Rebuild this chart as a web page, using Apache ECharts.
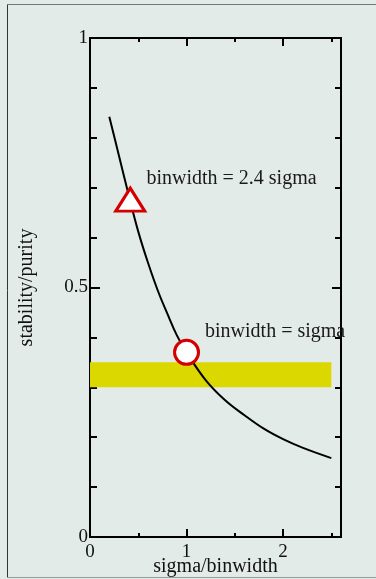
<!DOCTYPE html>
<html>
<head>
<meta charset="utf-8">
<script src="https://cdn.jsdelivr.net/npm/echarts@6/dist/echarts.min.js"></script>
<style>
html,body{margin:0;padding:0;background:#e3ebe8;}
#chart{width:376px;height:579px;}
</style>
</head>
<body>
<div id="chart"></div>
<script>
// Curve: stability/purity versus sigma/binwidth
const curveX = [0.2, 0.3, 0.4, 0.5, 0.6, 0.7, 0.8, 0.9, 1.0, 1.2, 1.4, 1.6, 1.8, 2.0, 2.2, 2.5];
const curveY = [0.842, 0.764, 0.686, 0.612, 0.550, 0.495, 0.448, 0.404, 0.370, 0.314, 0.274, 0.244, 0.217, 0.196, 0.179, 0.158];
// Marked points
const triPoint = [0.4167, 0.676];
const triLabel = 'binwidth = 2.4 sigma';
const circPoint = [1.0, 0.37];
const circLabel = 'binwidth = sigma';
// Yellow band
const bandX = [0, 2.5];
const bandY = [0.30, 0.35];
// Axis texts
const xName = 'sigma/binwidth';
const yName = 'stability/purity';
const xRange = [0, 2.6];
const yRange = [0, 1];

const serif = '"Liberation Serif", "DejaVu Serif", serif';
const chart = echarts.init(document.getElementById('chart'));

function xAx(pos, interval, len, labels) {
  return {
    type: 'value', position: pos, min: xRange[0], max: xRange[1], interval: interval,
    axisLine: {show: true, onZero: false, lineStyle: {color: '#000', width: 2}},
    axisTick: {show: true, inside: true, length: len, lineStyle: {color: '#000', width: 2}},
    axisLabel: labels ? {
      show: true, margin: 6, color: '#111', fontSize: 19, fontFamily: serif,
      formatter: v => (Math.abs(v - Math.round(v)) < 1e-9 ? String(Math.round(v)) : '')
    } : {show: false},
    splitLine: {show: false},
    name: labels ? xName : '', nameLocation: 'middle', nameGap: 20, nameMoveOverlap: false,
    nameTextStyle: {color: '#111', fontSize: 20, fontFamily: serif}
  };
}
function yAx(pos, interval, len, labels) {
  return {
    type: 'value', position: pos, min: yRange[0], max: yRange[1], interval: interval,
    axisLine: {show: true, onZero: false, lineStyle: {color: '#000', width: 2}},
    axisTick: {show: true, inside: true, length: len, lineStyle: {color: '#000', width: 2}},
    axisLabel: labels ? {show: true, margin: 2, color: '#111', fontSize: 19, fontFamily: serif} : {show: false},
    splitLine: {show: false},
    name: labels ? yName : '', nameLocation: 'middle', nameGap: 53, nameRotate: 90, nameMoveOverlap: false,
    nameTextStyle: {color: '#111', fontSize: 20, fontFamily: serif}
  };
}

const option = {
  backgroundColor: '#e3ebe8',
  animation: false,
  grid: {left: 90, right: 35, top: 38, bottom: 42, containLabel: false, outerBoundsMode: 'none'},
  xAxis: [
    xAx('bottom', 1, 8, true),
    xAx('bottom', 0.5, 4, false),
    xAx('top', 1, 8, false),
    xAx('top', 0.5, 4, false)
  ],
  yAxis: [
    yAx('left', 0.5, 10, true),
    yAx('left', 0.1, 7, false),
    yAx('right', 0.5, 9, false),
    yAx('right', 0.1, 6, false)
  ],
  graphic: [
    {type: 'line', silent: true, shape: {x1: 7.5, y1: 4, x2: 7.5, y2: 577}, style: {stroke: '#333', lineWidth: 1}},
    {type: 'line', silent: true, shape: {x1: 7, y1: 4.5, x2: 376, y2: 4.5}, style: {stroke: '#777', lineWidth: 1}},
    {type: 'line', silent: true, shape: {x1: 7, y1: 577.5, x2: 376, y2: 577.5}, style: {stroke: '#999', lineWidth: 1}}
  ],
  series: [
    {
      type: 'line', data: [], z: 1, symbol: 'none',
      markArea: {
        silent: true,
        itemStyle: {color: '#dbd800'},
        data: [[{xAxis: bandX[0], yAxis: bandY[0]}, {xAxis: bandX[1], yAxis: bandY[1]}]]
      }
    },
    {
      type: 'line', z: 3, smooth: 0.4, symbol: 'none',
      data: curveX.map((x, i) => [x, curveY[i]]),
      lineStyle: {color: '#000', width: 2}
    },
    {
      type: 'scatter', z: 5, symbol: 'triangle', symbolSize: [29, 23],
      data: [triPoint],
      itemStyle: {color: '#fff', borderColor: '#d40000', borderWidth: 3, opacity: 1},
      label: {show: true, position: 'right', distance: 0, offset: [0, -21], formatter: triLabel,
        color: '#1a1a1a', fontSize: 20, fontFamily: serif}
    },
    {
      type: 'scatter', z: 5, symbol: 'circle', symbolSize: 24,
      data: [circPoint],
      itemStyle: {color: '#fff', borderColor: '#d40000', borderWidth: 3, opacity: 1},
      label: {show: true, position: 'right', distance: 5, offset: [0, -21], formatter: circLabel,
        color: '#1a1a1a', fontSize: 20, fontFamily: serif}
    }
  ]
};
chart.setOption(option);
</script>
</body>
</html>
